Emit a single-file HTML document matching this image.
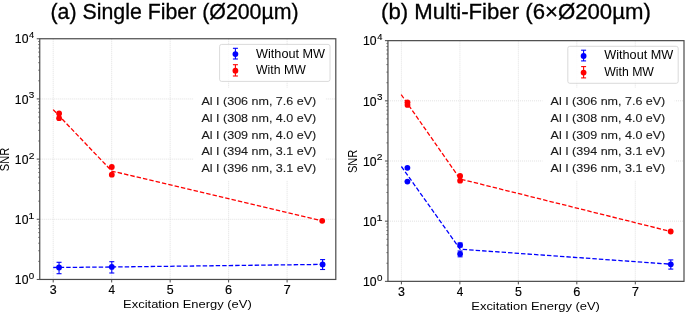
<!DOCTYPE html>
<html><head><meta charset="utf-8"><style>
html,body{margin:0;padding:0;background:#fff;}
svg{display:block;font-family:"Liberation Sans", sans-serif;}
svg{will-change:transform;}
</style></head><body>
<svg width="685" height="313" viewBox="0 0 685 313">
<rect x="0" y="0" width="685" height="313" fill="#fff"/>
<line x1="53.20" y1="38.75" x2="53.20" y2="279.45" stroke="#d9d9d9" stroke-width="0.8" stroke-dasharray="1 1"/>
<line x1="111.68" y1="38.75" x2="111.68" y2="279.45" stroke="#d9d9d9" stroke-width="0.8" stroke-dasharray="1 1"/>
<line x1="170.15" y1="38.75" x2="170.15" y2="279.45" stroke="#d9d9d9" stroke-width="0.8" stroke-dasharray="1 1"/>
<line x1="228.62" y1="38.75" x2="228.62" y2="279.45" stroke="#d9d9d9" stroke-width="0.8" stroke-dasharray="1 1"/>
<line x1="287.10" y1="38.75" x2="287.10" y2="279.45" stroke="#d9d9d9" stroke-width="0.8" stroke-dasharray="1 1"/>
<line x1="39.75" y1="219.27" x2="335.8" y2="219.27" stroke="#d9d9d9" stroke-width="0.8" stroke-dasharray="1 1"/>
<line x1="39.75" y1="159.10" x2="335.8" y2="159.10" stroke="#d9d9d9" stroke-width="0.8" stroke-dasharray="1 1"/>
<line x1="39.75" y1="98.93" x2="335.8" y2="98.93" stroke="#d9d9d9" stroke-width="0.8" stroke-dasharray="1 1"/>
<rect x="193.4" y="87.7" width="132.2" height="92.8" fill="#fff"/>
<polyline points="53.15,109.60 111.80,171.10 322.20,220.80" fill="none" stroke="#ff0000" stroke-width="1.3" stroke-dasharray="4.45 2.05"/>
<polyline points="53.20,267.50 111.80,267.00 322.60,264.40" fill="none" stroke="#0000ff" stroke-width="1.3" stroke-dasharray="4.45 2.05"/>
<line x1="59.05" y1="262.3" x2="59.05" y2="273.7" stroke="#0000ff" stroke-width="1.1"/>
<line x1="56.55" y1="262.3" x2="61.55" y2="262.3" stroke="#0000ff" stroke-width="1.1"/>
<line x1="56.55" y1="273.7" x2="61.55" y2="273.7" stroke="#0000ff" stroke-width="1.1"/>
<circle cx="59.05" cy="267.5" r="2.9" fill="#0000ff"/>
<line x1="111.8" y1="261.7" x2="111.8" y2="273.0" stroke="#0000ff" stroke-width="1.1"/>
<line x1="109.3" y1="261.7" x2="114.3" y2="261.7" stroke="#0000ff" stroke-width="1.1"/>
<line x1="109.3" y1="273.0" x2="114.3" y2="273.0" stroke="#0000ff" stroke-width="1.1"/>
<circle cx="111.8" cy="266.9" r="2.9" fill="#0000ff"/>
<line x1="322.6" y1="259.6" x2="322.6" y2="269.5" stroke="#0000ff" stroke-width="1.1"/>
<line x1="320.1" y1="259.6" x2="325.1" y2="259.6" stroke="#0000ff" stroke-width="1.1"/>
<line x1="320.1" y1="269.5" x2="325.1" y2="269.5" stroke="#0000ff" stroke-width="1.1"/>
<circle cx="322.6" cy="264.4" r="2.9" fill="#0000ff"/>
<circle cx="59.1" cy="113.4" r="2.9" fill="#ff0000"/>
<circle cx="59.1" cy="118.2" r="2.9" fill="#ff0000"/>
<circle cx="111.8" cy="167.0" r="2.9" fill="#ff0000"/>
<circle cx="111.8" cy="174.7" r="2.9" fill="#ff0000"/>
<circle cx="322.2" cy="220.8" r="2.9" fill="#ff0000"/>
<rect x="219.6" y="44.4" width="110.4" height="37.0" rx="2" ry="2" fill="#fff" fill-opacity="0.8" stroke="#d0d0d0" stroke-width="0.8"/>
<line x1="235.4" y1="48.3" x2="235.4" y2="59.0" stroke="#0000ff" stroke-width="1.1"/>
<line x1="232.9" y1="48.3" x2="237.9" y2="48.3" stroke="#0000ff" stroke-width="1.1"/>
<line x1="232.9" y1="59.0" x2="237.9" y2="59.0" stroke="#0000ff" stroke-width="1.1"/>
<circle cx="235.4" cy="54.1" r="2.9" fill="#0000ff"/>
<line x1="235.4" y1="64.7" x2="235.4" y2="76.0" stroke="#ff0000" stroke-width="1.1"/>
<line x1="232.9" y1="64.7" x2="237.9" y2="64.7" stroke="#ff0000" stroke-width="1.1"/>
<line x1="232.9" y1="76.0" x2="237.9" y2="76.0" stroke="#ff0000" stroke-width="1.1"/>
<circle cx="235.4" cy="70.7" r="2.9" fill="#ff0000"/>
<text x="256.04" y="57.50" font-size="11.9" textLength="69.03" lengthAdjust="spacingAndGlyphs" fill="#000" >Without MW</text>
<text x="256.04" y="74.00" font-size="11.9" textLength="49.72" lengthAdjust="spacingAndGlyphs" fill="#000" >With MW</text>
<text x="201.47" y="104.90" font-size="11.6" textLength="114.73" lengthAdjust="spacingAndGlyphs" fill="#1a1a1a" stroke="#1a1a1a" stroke-width="0.12" >Al I (306 nm, 7.6 eV)</text>
<text x="201.47" y="121.80" font-size="11.6" textLength="114.73" lengthAdjust="spacingAndGlyphs" fill="#1a1a1a" stroke="#1a1a1a" stroke-width="0.12" >Al I (308 nm, 4.0 eV)</text>
<text x="201.47" y="138.60" font-size="11.6" textLength="114.73" lengthAdjust="spacingAndGlyphs" fill="#1a1a1a" stroke="#1a1a1a" stroke-width="0.12" >Al I (309 nm, 4.0 eV)</text>
<text x="201.47" y="155.40" font-size="11.6" textLength="114.73" lengthAdjust="spacingAndGlyphs" fill="#1a1a1a" stroke="#1a1a1a" stroke-width="0.12" >Al I (394 nm, 3.1 eV)</text>
<text x="201.47" y="172.30" font-size="11.6" textLength="114.73" lengthAdjust="spacingAndGlyphs" fill="#1a1a1a" stroke="#1a1a1a" stroke-width="0.12" >Al I (396 nm, 3.1 eV)</text>
<rect x="39.75" y="38.75" width="296.05" height="240.70" fill="none" stroke="#4a4a4a" stroke-width="1.2"/>
<line x1="53.20" y1="279.45" x2="53.20" y2="282.45" stroke="#4a4a4a" stroke-width="1"/>
<text x="49.78" y="293.80" font-size="12.2" textLength="6.91" lengthAdjust="spacingAndGlyphs" fill="#000" stroke="#000" stroke-width="0.15" >3</text>
<line x1="111.68" y1="279.45" x2="111.68" y2="282.45" stroke="#4a4a4a" stroke-width="1"/>
<text x="108.46" y="293.80" font-size="12.2" textLength="6.50" lengthAdjust="spacingAndGlyphs" fill="#000" stroke="#000" stroke-width="0.15" >4</text>
<line x1="170.15" y1="279.45" x2="170.15" y2="282.45" stroke="#4a4a4a" stroke-width="1"/>
<text x="166.70" y="293.80" font-size="12.2" textLength="6.91" lengthAdjust="spacingAndGlyphs" fill="#000" stroke="#000" stroke-width="0.15" >5</text>
<line x1="228.62" y1="279.45" x2="228.62" y2="282.45" stroke="#4a4a4a" stroke-width="1"/>
<text x="225.04" y="293.80" font-size="12.2" textLength="7.09" lengthAdjust="spacingAndGlyphs" fill="#000" stroke="#000" stroke-width="0.15" >6</text>
<line x1="287.10" y1="279.45" x2="287.10" y2="282.45" stroke="#4a4a4a" stroke-width="1"/>
<text x="283.47" y="293.80" font-size="12.2" textLength="7.25" lengthAdjust="spacingAndGlyphs" fill="#000" stroke="#000" stroke-width="0.15" >7</text>
<line x1="36.75" y1="279.45" x2="39.75" y2="279.45" stroke="#4a4a4a" stroke-width="1"/>
<text x="14.88" y="284.15" font-size="12.2" textLength="13.60" lengthAdjust="spacingAndGlyphs" fill="#000" stroke="#000" stroke-width="0.15" >10</text>
<text x="28.81" y="278.85" font-size="8.6" textLength="5.47" lengthAdjust="spacingAndGlyphs" fill="#000" stroke="#000" stroke-width="0.12" >0</text>
<line x1="38.15" y1="261.34" x2="39.75" y2="261.34" stroke="#4a4a4a" stroke-width="0.7"/>
<line x1="38.15" y1="250.74" x2="39.75" y2="250.74" stroke="#4a4a4a" stroke-width="0.7"/>
<line x1="38.15" y1="243.22" x2="39.75" y2="243.22" stroke="#4a4a4a" stroke-width="0.7"/>
<line x1="38.15" y1="237.39" x2="39.75" y2="237.39" stroke="#4a4a4a" stroke-width="0.7"/>
<line x1="38.15" y1="232.62" x2="39.75" y2="232.62" stroke="#4a4a4a" stroke-width="0.7"/>
<line x1="38.15" y1="228.60" x2="39.75" y2="228.60" stroke="#4a4a4a" stroke-width="0.7"/>
<line x1="38.15" y1="225.11" x2="39.75" y2="225.11" stroke="#4a4a4a" stroke-width="0.7"/>
<line x1="38.15" y1="222.03" x2="39.75" y2="222.03" stroke="#4a4a4a" stroke-width="0.7"/>
<line x1="36.75" y1="219.27" x2="39.75" y2="219.27" stroke="#4a4a4a" stroke-width="1"/>
<text x="14.88" y="223.97" font-size="12.2" textLength="13.60" lengthAdjust="spacingAndGlyphs" fill="#000" stroke="#000" stroke-width="0.15" >10</text>
<text x="28.38" y="218.67" font-size="8.6" textLength="6.04" lengthAdjust="spacingAndGlyphs" fill="#000" stroke="#000" stroke-width="0.12" >1</text>
<line x1="38.15" y1="201.16" x2="39.75" y2="201.16" stroke="#4a4a4a" stroke-width="0.7"/>
<line x1="38.15" y1="190.56" x2="39.75" y2="190.56" stroke="#4a4a4a" stroke-width="0.7"/>
<line x1="38.15" y1="183.05" x2="39.75" y2="183.05" stroke="#4a4a4a" stroke-width="0.7"/>
<line x1="38.15" y1="177.21" x2="39.75" y2="177.21" stroke="#4a4a4a" stroke-width="0.7"/>
<line x1="38.15" y1="172.45" x2="39.75" y2="172.45" stroke="#4a4a4a" stroke-width="0.7"/>
<line x1="38.15" y1="168.42" x2="39.75" y2="168.42" stroke="#4a4a4a" stroke-width="0.7"/>
<line x1="38.15" y1="164.93" x2="39.75" y2="164.93" stroke="#4a4a4a" stroke-width="0.7"/>
<line x1="38.15" y1="161.85" x2="39.75" y2="161.85" stroke="#4a4a4a" stroke-width="0.7"/>
<line x1="36.75" y1="159.10" x2="39.75" y2="159.10" stroke="#4a4a4a" stroke-width="1"/>
<text x="14.88" y="163.80" font-size="12.2" textLength="13.60" lengthAdjust="spacingAndGlyphs" fill="#000" stroke="#000" stroke-width="0.15" >10</text>
<text x="28.68" y="158.50" font-size="8.6" textLength="5.75" lengthAdjust="spacingAndGlyphs" fill="#000" stroke="#000" stroke-width="0.12" >2</text>
<line x1="38.15" y1="140.99" x2="39.75" y2="140.99" stroke="#4a4a4a" stroke-width="0.7"/>
<line x1="38.15" y1="130.39" x2="39.75" y2="130.39" stroke="#4a4a4a" stroke-width="0.7"/>
<line x1="38.15" y1="122.87" x2="39.75" y2="122.87" stroke="#4a4a4a" stroke-width="0.7"/>
<line x1="38.15" y1="117.04" x2="39.75" y2="117.04" stroke="#4a4a4a" stroke-width="0.7"/>
<line x1="38.15" y1="112.27" x2="39.75" y2="112.27" stroke="#4a4a4a" stroke-width="0.7"/>
<line x1="38.15" y1="108.25" x2="39.75" y2="108.25" stroke="#4a4a4a" stroke-width="0.7"/>
<line x1="38.15" y1="104.76" x2="39.75" y2="104.76" stroke="#4a4a4a" stroke-width="0.7"/>
<line x1="38.15" y1="101.68" x2="39.75" y2="101.68" stroke="#4a4a4a" stroke-width="0.7"/>
<line x1="36.75" y1="98.93" x2="39.75" y2="98.93" stroke="#4a4a4a" stroke-width="1"/>
<text x="14.88" y="103.63" font-size="12.2" textLength="13.60" lengthAdjust="spacingAndGlyphs" fill="#000" stroke="#000" stroke-width="0.15" >10</text>
<text x="28.83" y="98.33" font-size="8.6" textLength="5.50" lengthAdjust="spacingAndGlyphs" fill="#000" stroke="#000" stroke-width="0.12" >3</text>
<line x1="38.15" y1="80.81" x2="39.75" y2="80.81" stroke="#4a4a4a" stroke-width="0.7"/>
<line x1="38.15" y1="70.21" x2="39.75" y2="70.21" stroke="#4a4a4a" stroke-width="0.7"/>
<line x1="38.15" y1="62.70" x2="39.75" y2="62.70" stroke="#4a4a4a" stroke-width="0.7"/>
<line x1="38.15" y1="56.86" x2="39.75" y2="56.86" stroke="#4a4a4a" stroke-width="0.7"/>
<line x1="38.15" y1="52.10" x2="39.75" y2="52.10" stroke="#4a4a4a" stroke-width="0.7"/>
<line x1="38.15" y1="48.07" x2="39.75" y2="48.07" stroke="#4a4a4a" stroke-width="0.7"/>
<line x1="38.15" y1="44.58" x2="39.75" y2="44.58" stroke="#4a4a4a" stroke-width="0.7"/>
<line x1="38.15" y1="41.50" x2="39.75" y2="41.50" stroke="#4a4a4a" stroke-width="0.7"/>
<line x1="36.75" y1="38.75" x2="39.75" y2="38.75" stroke="#4a4a4a" stroke-width="1"/>
<text x="14.88" y="43.45" font-size="12.2" textLength="13.60" lengthAdjust="spacingAndGlyphs" fill="#000" stroke="#000" stroke-width="0.15" >10</text>
<text x="28.99" y="38.15" font-size="8.6" textLength="5.18" lengthAdjust="spacingAndGlyphs" fill="#000" stroke="#000" stroke-width="0.12" >4</text>
<text x="123.13" y="308.00" font-size="11.6" textLength="128.59" lengthAdjust="spacingAndGlyphs" fill="#000" >Excitation Energy (eV)</text>
<g transform="translate(8.9 0) rotate(-90)"><text x="-171.20" y="0.00" font-size="11.9" textLength="23.41" lengthAdjust="spacingAndGlyphs" fill="#000" >SNR</text></g>
<g transform="translate(348.2 1.9)">
<line x1="53.20" y1="38.75" x2="53.20" y2="279.45" stroke="#d9d9d9" stroke-width="0.8" stroke-dasharray="1 1"/>
<line x1="111.68" y1="38.75" x2="111.68" y2="279.45" stroke="#d9d9d9" stroke-width="0.8" stroke-dasharray="1 1"/>
<line x1="170.15" y1="38.75" x2="170.15" y2="279.45" stroke="#d9d9d9" stroke-width="0.8" stroke-dasharray="1 1"/>
<line x1="228.62" y1="38.75" x2="228.62" y2="279.45" stroke="#d9d9d9" stroke-width="0.8" stroke-dasharray="1 1"/>
<line x1="287.10" y1="38.75" x2="287.10" y2="279.45" stroke="#d9d9d9" stroke-width="0.8" stroke-dasharray="1 1"/>
<line x1="39.75" y1="219.27" x2="335.8" y2="219.27" stroke="#d9d9d9" stroke-width="0.8" stroke-dasharray="1 1"/>
<line x1="39.75" y1="159.10" x2="335.8" y2="159.10" stroke="#d9d9d9" stroke-width="0.8" stroke-dasharray="1 1"/>
<line x1="39.75" y1="98.93" x2="335.8" y2="98.93" stroke="#d9d9d9" stroke-width="0.8" stroke-dasharray="1 1"/>
</g>
<rect x="542.5" y="87.7" width="132.2" height="92.8" fill="#fff"/>
<polyline points="401.20,94.60 460.10,179.00 670.70,231.50" fill="none" stroke="#ff0000" stroke-width="1.3" stroke-dasharray="4.45 2.05"/>
<polyline points="401.40,166.50 460.10,249.20 670.80,264.20" fill="none" stroke="#0000ff" stroke-width="1.3" stroke-dasharray="4.45 2.05"/>
<circle cx="407.5" cy="102.3" r="2.9" fill="#ff0000"/>
<circle cx="407.5" cy="104.9" r="2.9" fill="#ff0000"/>
<circle cx="460.1" cy="176.0" r="2.9" fill="#ff0000"/>
<circle cx="460.1" cy="180.7" r="2.9" fill="#ff0000"/>
<circle cx="670.7" cy="231.5" r="2.9" fill="#ff0000"/>
<circle cx="407.4" cy="167.8" r="2.9" fill="#0000ff"/>
<circle cx="407.4" cy="181.6" r="2.9" fill="#0000ff"/>
<line x1="460.1" y1="243.0" x2="460.1" y2="247.0" stroke="#0000ff" stroke-width="1.1"/>
<line x1="457.6" y1="243.0" x2="462.6" y2="243.0" stroke="#0000ff" stroke-width="1.1"/>
<line x1="457.6" y1="247.0" x2="462.6" y2="247.0" stroke="#0000ff" stroke-width="1.1"/>
<circle cx="460.1" cy="245.1" r="2.9" fill="#0000ff"/>
<line x1="460.1" y1="251.0" x2="460.1" y2="256.8" stroke="#0000ff" stroke-width="1.1"/>
<line x1="457.6" y1="251.0" x2="462.6" y2="251.0" stroke="#0000ff" stroke-width="1.1"/>
<line x1="457.6" y1="256.8" x2="462.6" y2="256.8" stroke="#0000ff" stroke-width="1.1"/>
<circle cx="460.1" cy="253.9" r="2.9" fill="#0000ff"/>
<line x1="670.8" y1="259.9" x2="670.8" y2="269.1" stroke="#0000ff" stroke-width="1.1"/>
<line x1="668.3" y1="259.9" x2="673.3" y2="259.9" stroke="#0000ff" stroke-width="1.1"/>
<line x1="668.3" y1="269.1" x2="673.3" y2="269.1" stroke="#0000ff" stroke-width="1.1"/>
<circle cx="670.8" cy="264.3" r="2.9" fill="#0000ff"/>
<g transform="translate(348.2 1.9)">
<rect x="219.6" y="44.4" width="110.4" height="37.0" rx="2" ry="2" fill="#fff" fill-opacity="0.8" stroke="#d0d0d0" stroke-width="0.8"/>
<line x1="235.4" y1="48.3" x2="235.4" y2="59.0" stroke="#0000ff" stroke-width="1.1"/>
<line x1="232.9" y1="48.3" x2="237.9" y2="48.3" stroke="#0000ff" stroke-width="1.1"/>
<line x1="232.9" y1="59.0" x2="237.9" y2="59.0" stroke="#0000ff" stroke-width="1.1"/>
<circle cx="235.4" cy="54.1" r="2.9" fill="#0000ff"/>
<line x1="235.4" y1="64.7" x2="235.4" y2="76.0" stroke="#ff0000" stroke-width="1.1"/>
<line x1="232.9" y1="64.7" x2="237.9" y2="64.7" stroke="#ff0000" stroke-width="1.1"/>
<line x1="232.9" y1="76.0" x2="237.9" y2="76.0" stroke="#ff0000" stroke-width="1.1"/>
<circle cx="235.4" cy="70.7" r="2.9" fill="#ff0000"/>
<text x="256.04" y="57.50" font-size="11.9" textLength="69.03" lengthAdjust="spacingAndGlyphs" fill="#000" >Without MW</text>
<text x="256.04" y="74.00" font-size="11.9" textLength="49.72" lengthAdjust="spacingAndGlyphs" fill="#000" >With MW</text>
</g>
<text x="550.57" y="104.90" font-size="11.6" textLength="114.73" lengthAdjust="spacingAndGlyphs" fill="#1a1a1a" stroke="#1a1a1a" stroke-width="0.12" >Al I (306 nm, 7.6 eV)</text>
<text x="550.57" y="121.80" font-size="11.6" textLength="114.73" lengthAdjust="spacingAndGlyphs" fill="#1a1a1a" stroke="#1a1a1a" stroke-width="0.12" >Al I (308 nm, 4.0 eV)</text>
<text x="550.57" y="138.60" font-size="11.6" textLength="114.73" lengthAdjust="spacingAndGlyphs" fill="#1a1a1a" stroke="#1a1a1a" stroke-width="0.12" >Al I (309 nm, 4.0 eV)</text>
<text x="550.57" y="155.40" font-size="11.6" textLength="114.73" lengthAdjust="spacingAndGlyphs" fill="#1a1a1a" stroke="#1a1a1a" stroke-width="0.12" >Al I (394 nm, 3.1 eV)</text>
<text x="550.57" y="172.30" font-size="11.6" textLength="114.73" lengthAdjust="spacingAndGlyphs" fill="#1a1a1a" stroke="#1a1a1a" stroke-width="0.12" >Al I (396 nm, 3.1 eV)</text>
<g transform="translate(348.2 1.9)">
<rect x="39.75" y="38.75" width="296.05" height="240.70" fill="none" stroke="#4a4a4a" stroke-width="1.2"/>
<line x1="53.20" y1="279.45" x2="53.20" y2="282.45" stroke="#4a4a4a" stroke-width="1"/>
<text x="49.78" y="293.80" font-size="12.2" textLength="6.91" lengthAdjust="spacingAndGlyphs" fill="#000" stroke="#000" stroke-width="0.15" >3</text>
<line x1="111.68" y1="279.45" x2="111.68" y2="282.45" stroke="#4a4a4a" stroke-width="1"/>
<text x="108.46" y="293.80" font-size="12.2" textLength="6.50" lengthAdjust="spacingAndGlyphs" fill="#000" stroke="#000" stroke-width="0.15" >4</text>
<line x1="170.15" y1="279.45" x2="170.15" y2="282.45" stroke="#4a4a4a" stroke-width="1"/>
<text x="166.70" y="293.80" font-size="12.2" textLength="6.91" lengthAdjust="spacingAndGlyphs" fill="#000" stroke="#000" stroke-width="0.15" >5</text>
<line x1="228.62" y1="279.45" x2="228.62" y2="282.45" stroke="#4a4a4a" stroke-width="1"/>
<text x="225.04" y="293.80" font-size="12.2" textLength="7.09" lengthAdjust="spacingAndGlyphs" fill="#000" stroke="#000" stroke-width="0.15" >6</text>
<line x1="287.10" y1="279.45" x2="287.10" y2="282.45" stroke="#4a4a4a" stroke-width="1"/>
<text x="283.47" y="293.80" font-size="12.2" textLength="7.25" lengthAdjust="spacingAndGlyphs" fill="#000" stroke="#000" stroke-width="0.15" >7</text>
<line x1="36.75" y1="279.45" x2="39.75" y2="279.45" stroke="#4a4a4a" stroke-width="1"/>
<text x="14.88" y="284.15" font-size="12.2" textLength="13.60" lengthAdjust="spacingAndGlyphs" fill="#000" stroke="#000" stroke-width="0.15" >10</text>
<text x="28.81" y="278.85" font-size="8.6" textLength="5.47" lengthAdjust="spacingAndGlyphs" fill="#000" stroke="#000" stroke-width="0.12" >0</text>
<line x1="38.15" y1="261.34" x2="39.75" y2="261.34" stroke="#4a4a4a" stroke-width="0.7"/>
<line x1="38.15" y1="250.74" x2="39.75" y2="250.74" stroke="#4a4a4a" stroke-width="0.7"/>
<line x1="38.15" y1="243.22" x2="39.75" y2="243.22" stroke="#4a4a4a" stroke-width="0.7"/>
<line x1="38.15" y1="237.39" x2="39.75" y2="237.39" stroke="#4a4a4a" stroke-width="0.7"/>
<line x1="38.15" y1="232.62" x2="39.75" y2="232.62" stroke="#4a4a4a" stroke-width="0.7"/>
<line x1="38.15" y1="228.60" x2="39.75" y2="228.60" stroke="#4a4a4a" stroke-width="0.7"/>
<line x1="38.15" y1="225.11" x2="39.75" y2="225.11" stroke="#4a4a4a" stroke-width="0.7"/>
<line x1="38.15" y1="222.03" x2="39.75" y2="222.03" stroke="#4a4a4a" stroke-width="0.7"/>
<line x1="36.75" y1="219.27" x2="39.75" y2="219.27" stroke="#4a4a4a" stroke-width="1"/>
<text x="14.88" y="223.97" font-size="12.2" textLength="13.60" lengthAdjust="spacingAndGlyphs" fill="#000" stroke="#000" stroke-width="0.15" >10</text>
<text x="28.38" y="218.67" font-size="8.6" textLength="6.04" lengthAdjust="spacingAndGlyphs" fill="#000" stroke="#000" stroke-width="0.12" >1</text>
<line x1="38.15" y1="201.16" x2="39.75" y2="201.16" stroke="#4a4a4a" stroke-width="0.7"/>
<line x1="38.15" y1="190.56" x2="39.75" y2="190.56" stroke="#4a4a4a" stroke-width="0.7"/>
<line x1="38.15" y1="183.05" x2="39.75" y2="183.05" stroke="#4a4a4a" stroke-width="0.7"/>
<line x1="38.15" y1="177.21" x2="39.75" y2="177.21" stroke="#4a4a4a" stroke-width="0.7"/>
<line x1="38.15" y1="172.45" x2="39.75" y2="172.45" stroke="#4a4a4a" stroke-width="0.7"/>
<line x1="38.15" y1="168.42" x2="39.75" y2="168.42" stroke="#4a4a4a" stroke-width="0.7"/>
<line x1="38.15" y1="164.93" x2="39.75" y2="164.93" stroke="#4a4a4a" stroke-width="0.7"/>
<line x1="38.15" y1="161.85" x2="39.75" y2="161.85" stroke="#4a4a4a" stroke-width="0.7"/>
<line x1="36.75" y1="159.10" x2="39.75" y2="159.10" stroke="#4a4a4a" stroke-width="1"/>
<text x="14.88" y="163.80" font-size="12.2" textLength="13.60" lengthAdjust="spacingAndGlyphs" fill="#000" stroke="#000" stroke-width="0.15" >10</text>
<text x="28.68" y="158.50" font-size="8.6" textLength="5.75" lengthAdjust="spacingAndGlyphs" fill="#000" stroke="#000" stroke-width="0.12" >2</text>
<line x1="38.15" y1="140.99" x2="39.75" y2="140.99" stroke="#4a4a4a" stroke-width="0.7"/>
<line x1="38.15" y1="130.39" x2="39.75" y2="130.39" stroke="#4a4a4a" stroke-width="0.7"/>
<line x1="38.15" y1="122.87" x2="39.75" y2="122.87" stroke="#4a4a4a" stroke-width="0.7"/>
<line x1="38.15" y1="117.04" x2="39.75" y2="117.04" stroke="#4a4a4a" stroke-width="0.7"/>
<line x1="38.15" y1="112.27" x2="39.75" y2="112.27" stroke="#4a4a4a" stroke-width="0.7"/>
<line x1="38.15" y1="108.25" x2="39.75" y2="108.25" stroke="#4a4a4a" stroke-width="0.7"/>
<line x1="38.15" y1="104.76" x2="39.75" y2="104.76" stroke="#4a4a4a" stroke-width="0.7"/>
<line x1="38.15" y1="101.68" x2="39.75" y2="101.68" stroke="#4a4a4a" stroke-width="0.7"/>
<line x1="36.75" y1="98.93" x2="39.75" y2="98.93" stroke="#4a4a4a" stroke-width="1"/>
<text x="14.88" y="103.63" font-size="12.2" textLength="13.60" lengthAdjust="spacingAndGlyphs" fill="#000" stroke="#000" stroke-width="0.15" >10</text>
<text x="28.83" y="98.33" font-size="8.6" textLength="5.50" lengthAdjust="spacingAndGlyphs" fill="#000" stroke="#000" stroke-width="0.12" >3</text>
<line x1="38.15" y1="80.81" x2="39.75" y2="80.81" stroke="#4a4a4a" stroke-width="0.7"/>
<line x1="38.15" y1="70.21" x2="39.75" y2="70.21" stroke="#4a4a4a" stroke-width="0.7"/>
<line x1="38.15" y1="62.70" x2="39.75" y2="62.70" stroke="#4a4a4a" stroke-width="0.7"/>
<line x1="38.15" y1="56.86" x2="39.75" y2="56.86" stroke="#4a4a4a" stroke-width="0.7"/>
<line x1="38.15" y1="52.10" x2="39.75" y2="52.10" stroke="#4a4a4a" stroke-width="0.7"/>
<line x1="38.15" y1="48.07" x2="39.75" y2="48.07" stroke="#4a4a4a" stroke-width="0.7"/>
<line x1="38.15" y1="44.58" x2="39.75" y2="44.58" stroke="#4a4a4a" stroke-width="0.7"/>
<line x1="38.15" y1="41.50" x2="39.75" y2="41.50" stroke="#4a4a4a" stroke-width="0.7"/>
<line x1="36.75" y1="38.75" x2="39.75" y2="38.75" stroke="#4a4a4a" stroke-width="1"/>
<text x="14.88" y="43.45" font-size="12.2" textLength="13.60" lengthAdjust="spacingAndGlyphs" fill="#000" stroke="#000" stroke-width="0.15" >10</text>
<text x="28.99" y="38.15" font-size="8.6" textLength="5.18" lengthAdjust="spacingAndGlyphs" fill="#000" stroke="#000" stroke-width="0.12" >4</text>
<text x="123.13" y="308.00" font-size="11.6" textLength="128.59" lengthAdjust="spacingAndGlyphs" fill="#000" >Excitation Energy (eV)</text>
<g transform="translate(8.9 0) rotate(-90)"><text x="-171.20" y="0.00" font-size="11.9" textLength="23.41" lengthAdjust="spacingAndGlyphs" fill="#000" >SNR</text></g>
</g>
<text x="50.47" y="18.50" font-size="21.2" textLength="248.18" lengthAdjust="spacingAndGlyphs" fill="#000" stroke="#000" stroke-width="0.3" >(a) Single Fiber (Ø200µm)</text>
<text x="381.01" y="18.50" font-size="21.2" textLength="269.87" lengthAdjust="spacingAndGlyphs" fill="#000" stroke="#000" stroke-width="0.3" >(b) Multi-Fiber (6×Ø200µm)</text>
</svg>
</body></html>
